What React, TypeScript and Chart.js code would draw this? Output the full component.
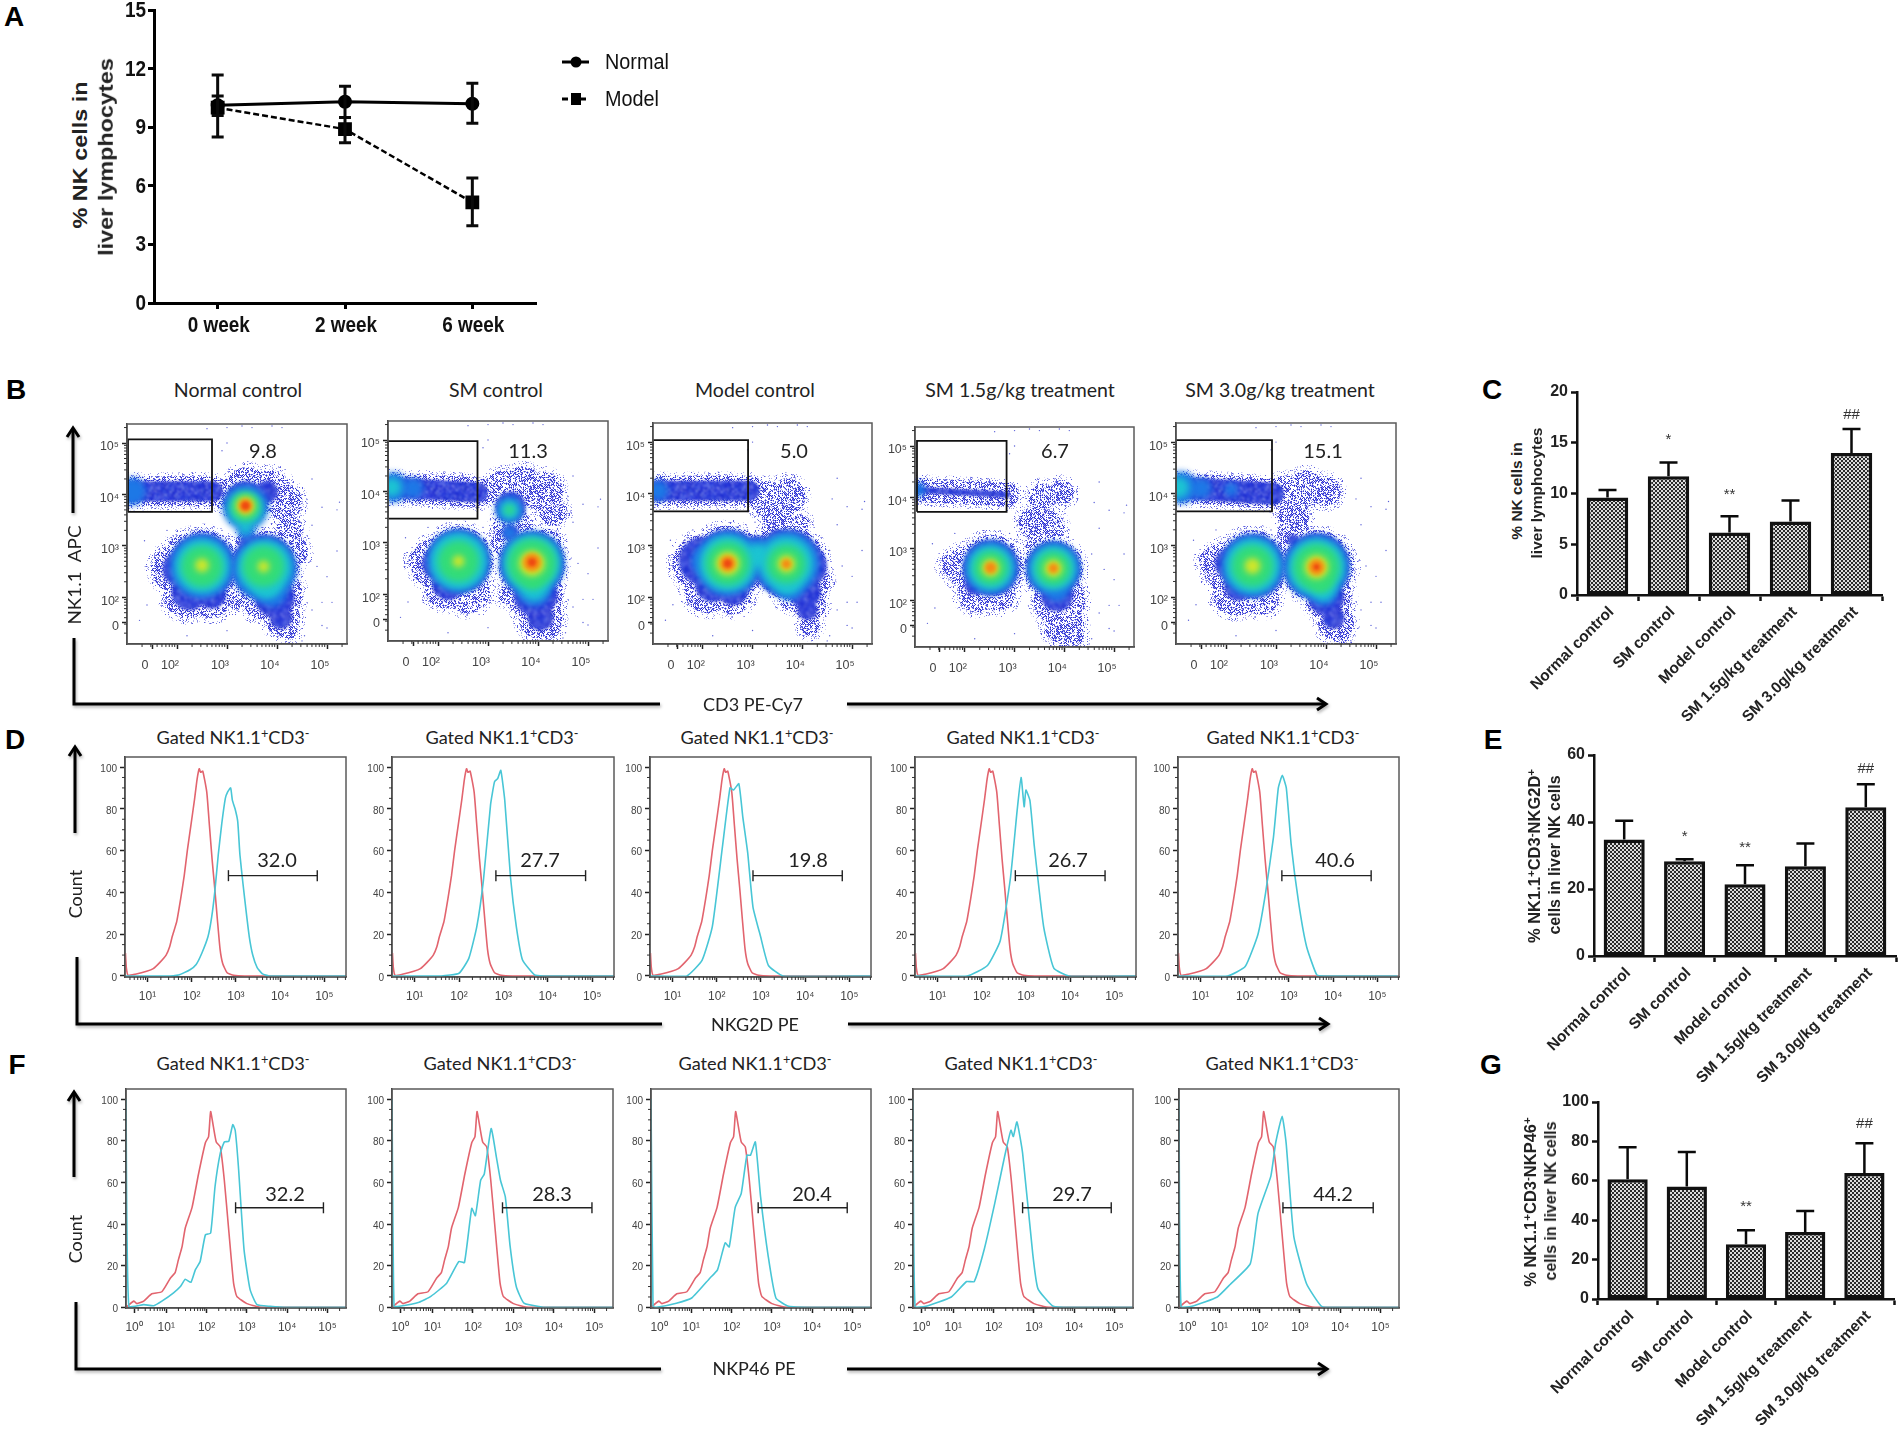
import React, { useEffect, useRef } from "react";
import { Chart, registerables } from "chart.js";
Chart.register(...registerables);

const ARIAL = '"Liberation Sans", Arial, sans-serif';
const LATO = 'Lato, "Open Sans", sans-serif';

// ---------- Panel A ----------
const weeks = ["0 week", "2 week", "6 week"];
const normalMean = [10.13, 10.3, 10.2];
const normalLow = [8.5, 9.5, 9.2];
const normalHigh = [11.67, 11.1, 11.25];
const modelMean = [10.0, 8.9, 5.15];
const modelLow = [9.6, 8.2, 3.95];
const modelHigh = [10.6, 9.5, 6.4];
const legendNames = ["Normal", "Model"];

// ---------- Panels C, E, G ----------
const groups = ["Normal control", "SM control", "Model control", "SM 1.5g/kg treatment", "SM 3.0g/kg treatment"];
const cMeans = [9.6, 11.7, 6.15, 7.25, 14.0];
const cTops = [10.35, 13.05, 7.75, 9.3, 16.35];
const cMarks = ["", "*", "**", "", "##"];
const cMarkAt = [0, 15.3, 9.85, 0, 17.75];
const eMeans = [34.8, 28.3, 21.4, 26.8, 44.4];
const eTops = [40.4, 28.9, 27.1, 33.6, 51.3];
const eMarks = ["", "*", "**", "", "##"];
const eMarkAt = [0, 35.6, 32.3, 0, 56];
const gMeans = [60.8, 57.1, 27.8, 34, 63.9];
const gTops = [77, 74.6, 34.9, 44.7, 79];
const gMarks = ["", "", "**", "", "##"];
const gMarkAt = [0, 0, 47, 0, 89];

// ---------- Panel B, density read as blobs [decade x, decade y, radius] ----------
type T = number[];
const b1Band: T[] = [[1, 4.06], [2.72, 4.06]];
const b1Halo: T[] = [[3.0,4.0,16],[3.4,4.1,22],[3.85,4.05,22],[4.15,3.85,18],[4.25,3.3,14],[4.3,2.9,16],[2.5,2.6,37],[2.0,2.55,25],[1.75,2.6,14],[2.2,2.05,24],[2.7,1.98,20],[2.1,2.95,14],[3.73,2.6,36],[4.0,2.05,26],[3.7,1.95,20],[4.1,1.6,18],[4.22,1.38,10],[3.45,3.05,14],[3.15,1.95,10]];
const b1Blue: T[] = [[3.37,3.85,21],[3.8,4.05,11],[2.5,2.6,33],[2.05,2.55,17],[2.25,2.1,18],[2.7,2.05,14],[3.73,2.6,32],[3.95,2.0,20],[4.08,1.6,11],[3.45,3.05,10]];
const b1Azure: T[] = [[1.1,4.06,12],[2.5,2.6,28],[3.75,2.55,28],[3.9,2.1,13],[3.37,3.75,20],[3.38,3.3,8]];
const b1Cyan: T[] = [[2.5,2.6,23],[3.75,2.58,23],[3.8,2.25,12],[3.37,3.72,15],[3.37,3.35,5]];
const b1Green: T[] = [[2.5,2.6,17],[3.73,2.6,17],[3.37,3.76,12]];
const b1Yellow: T[] = [[2.5,2.62,7],[3.73,2.6,6],[3.37,3.78,9.5]];
const b1Orange: T[] = [[3.37,3.78,7]];
const b1Red: T[] = [[3.37,3.78,4]];

const b2Band: T[] = [[1, 4.08], [2.8, 3.98]];
const b2Halo: T[] = [[3.3,4.05,18],[3.7,4.1,20],[4.1,4.0,20],[4.3,3.6,14],[3.5,3.3,20],[3.3,3.0,12],[4.2,3.0,14],[2.41,2.64,35],[1.95,2.6,25],[1.65,2.65,12],[2.15,2.15,22],[2.6,2.05,22],[3.88,2.6,34],[3.95,2.0,28],[4.05,1.55,22],[4.2,1.35,12],[3.4,2.0,10]];
const b2Blue: T[] = [[3.45,3.7,15],[3.45,3.2,8],[2.41,2.64,32],[2.0,2.6,16],[2.2,2.2,16],[3.88,2.6,32],[3.95,2.0,22],[4.05,1.55,13]];
const b2Azure: T[] = [[1.1,4.08,13],[1.5,4.06,9],[3.43,3.64,12],[3.43,3.2,6],[2.41,2.64,27],[3.88,2.6,28],[3.92,2.1,15]];
const b2Cyan: T[] = [[1.08,4.08,8],[3.43,3.64,8],[2.41,2.64,24],[3.88,2.6,24],[3.92,2.15,12]];
const b2Green: T[] = [[2.41,2.64,17],[3.88,2.6,20],[3.9,2.3,8],[3.43,3.64,4]];
const b2Yellow: T[] = [[2.41,2.64,6],[3.88,2.6,13]];
const b2Orange: T[] = [[3.88,2.62,9]];
const b2Red: T[] = [[3.88,2.62,4]];

const b3Band: T[] = [[1, 4.06], [2.94, 4.06]];
const b3Halo: T[] = [[3.3,3.9,18],[3.7,3.95,18],[3.5,3.6,16],[3.5,3.3,16],[3.95,3.4,10],[2.5,2.65,38],[1.95,2.65,28],[1.65,2.7,13],[2.1,2.15,24],[2.6,2.05,20],[3.1,2.7,26],[3.75,2.65,36],[4.0,2.3,28],[4.15,1.85,16],[4.15,1.45,10],[3.8,2.0,14]];
const b3Blue: T[] = [[3.5,3.15,8],[2.5,2.65,34],[2.0,2.7,24],[2.2,2.25,18],[2.6,2.15,16],[3.1,2.75,22],[3.7,2.65,34],[4.05,2.6,22],[4.05,2.1,16],[4.1,1.75,10]];
const b3Azure: T[] = [[1.1,4.06,9],[2.5,2.65,28],[2.1,2.7,14],[3.1,2.8,15],[3.7,2.65,28],[3.75,2.2,12]];
const b3Cyan: T[] = [[2.5,2.65,24],[3.1,2.8,10],[3.68,2.65,23],[3.7,2.3,11]];
const b3Green: T[] = [[2.5,2.65,18],[3.68,2.64,16]];
const b3Yellow: T[] = [[2.5,2.65,12],[3.68,2.64,9]];
const b3Orange: T[] = [[2.5,2.65,8],[3.68,2.64,5]];
const b3Red: T[] = [[2.5,2.65,4]];

const b4Band: T[] = [[1, 4.15], [2.85, 4.05]];
const b4Halo: T[] = [[3.55,4.0,14],[3.95,4.1,12],[3.4,3.5,16],[3.65,3.4,18],[3.5,3.0,14],[2.52,2.63,33],[2.0,2.65,20],[1.7,2.7,10],[2.25,2.15,20],[2.7,2.1,16],[3.78,2.62,30],[3.9,2.0,26],[4.0,1.5,20],[4.2,1.3,10]];
const b4Blue: T[] = [[2.52,2.63,28],[2.2,2.3,10],[3.78,2.62,27],[3.85,2.1,16]];
const b4Azure: T[] = [[1.05,4.15,7],[2.52,2.63,23],[3.78,2.62,23],[3.85,2.2,10]];
const b4Cyan: T[] = [[2.52,2.63,19],[3.78,2.62,19]];
const b4Green: T[] = [[2.52,2.63,14],[3.78,2.62,14]];
const b4Yellow: T[] = [[2.52,2.63,9],[3.78,2.62,9]];
const b4Orange: T[] = [[2.52,2.63,6],[3.78,2.62,5]];
const b4Red: T[] = [];

const b5Band: T[] = [[1, 4.12], [2.94, 4.0]];
const b5Halo: T[] = [[3.2,4.0,18],[3.6,4.1,18],[4.0,4.05,15],[3.35,3.6,16],[3.35,3.25,16],[3.35,3.0,12],[2.53,2.6,36],[2.0,2.6,24],[1.7,2.7,12],[2.2,2.1,24],[2.7,2.0,18],[3.15,2.8,14],[3.81,2.6,36],[4.1,2.6,24],[4.05,2.0,24],[4.2,1.5,18],[4.3,1.25,8]];
const b5Blue: T[] = [[3.35,3.1,6],[2.53,2.6,32],[2.1,2.65,16],[2.25,2.2,14],[3.81,2.6,33],[4.0,2.0,18],[4.15,1.6,11]];
const b5Azure: T[] = [[1.1,4.12,14],[1.5,4.1,9],[2.1,4.08,6],[2.53,2.6,27],[3.81,2.58,28],[3.95,2.1,12]];
const b5Cyan: T[] = [[1.05,4.12,9],[2.53,2.6,23],[3.81,2.58,24],[3.95,2.15,10]];
const b5Green: T[] = [[2.53,2.6,17],[3.81,2.58,19],[3.9,2.3,9]];
const b5Yellow: T[] = [[2.53,2.6,8],[3.81,2.58,12]];
const b5Orange: T[] = [[3.81,2.58,8]];
const b5Red: T[] = [[3.81,2.58,3]];

const strayDots: T[] = [[3.0,5.3],[3.3,5.33],[3.5,5.3],[3.9,5.33],[4.1,5.3],[2.9,4.85],[3.0,5.0],[2.6,5.28],[4.6,3.9],[4.9,3.75],[5.25,3.85],[5.2,3.7],[4.7,3.4],[4.55,2.9],[4.8,2.6],[5.0,2.4],[4.9,1.9],[5.1,1.9],[4.7,1.75],[4.9,1.45],[5.0,1.4],[4.5,1.15],[2.2,1.25],[3.0,1.35],[1.35,3.1],[1.8,3.3],[2.3,3.3],[3.05,3.45],[2.9,3.3],[1.4,1.85],[1.25,1.55],[4.55,1.25],[5.2,2.9],[4.7,4.3]];

// gates [x0, x1, y0, y1]
const gate1 = [1.02, 2.7, 3.66, 5.07];
const gate2 = [1.0, 2.79, 3.47, 4.98];
const gate3 = [1.0, 2.91, 3.66, 5.04];
const gate4 = [1.04, 2.84, 3.72, 5.1];
const gate5 = [1.0, 2.92, 3.66, 5.04];

const facsTickValues = [1.5, 2, 3, 4, 5];
const facsTickLabels = ["0", "10²", "10³", "10⁴", "10⁵"];
const logMinor = [0.301, 0.477, 0.602, 0.699, 0.778, 0.845, 0.903, 0.954];

// ---------- Panels D, F histograms [decade, % of max] ----------
const redD: T[] = [[0.5,11],[0.52,4],[0.56,0.3],[0.72,0.8],[0.98,2.2],[1.13,3.5],[1.28,6.5],[1.42,10],[1.5,14],[1.56,19],[1.66,26],[1.75,37],[1.83,48],[1.9,60],[1.98,72],[2.06,84],[2.12,94],[2.17,99.2],[2.2,97.5],[2.25,98],[2.34,88],[2.4,72],[2.46,56],[2.52,42],[2.58,27],[2.64,13],[2.7,6],[2.8,1.5],[2.95,0.3],[3.2,0],[5.49,0]];
const cyanD1: T[] = [[0.5,0],[1.4,0],[1.7,0.5],[1.96,3],[2.1,5.5],[2.23,11],[2.37,19],[2.45,28],[2.52,40],[2.6,58],[2.68,73],[2.76,85],[2.81,88],[2.88,90],[2.92,84],[2.98,80],[3.04,74],[3.09,58],[3.16,44],[3.23,31],[3.3,19],[3.38,10],[3.48,4],[3.6,1],[3.75,0],[5.49,0]];
const cyanD2: T[] = [[0.5,0],[1.6,0],[2,1.3],[2.22,8.4],[2.4,23.6],[2.55,46],[2.71,82],[2.8,93],[2.87,94.4],[2.94,98.4],[3.03,84],[3.16,47],[3.29,23.6],[3.43,7.6],[3.7,0.5],[3.9,0],[5.49,0]];
const cyanD3: T[] = [[0.5,0],[1.32,0],[1.67,7.6],[1.9,23.6],[2.13,62],[2.3,90],[2.38,89],[2.5,92],[2.59,76],[2.7,59],[2.82,33],[2.99,19],[3.17,5],[3.5,0],[5.49,0]];
const cyanD4: T[] = [[0.5,0],[1.67,0],[2.13,5],[2.42,17],[2.65,47],[2.8,79],[2.89,95],[2.96,81],[3.0,89],[3.09,84],[3.19,62],[3.4,23.6],[3.63,3.7],[3.97,0],[5.49,0]];
const cyanD5: T[] = [[0.5,0],[1.61,0],[2.01,4.5],[2.3,20],[2.47,39.5],[2.65,66.5],[2.76,90],[2.85,96],[2.94,90],[3.05,63],[3.22,35],[3.4,14],[3.63,0.5],[3.8,0],[5.46,0]];
const gateD: T[] = [[2.83,4.84],[2.83,4.85],[2.82,4.84],[2.76,4.79],[2.84,4.86]];

const redF: T[] = [[0,0],[0.19,3],[0.27,1.8],[0.44,3],[0.64,6.5],[0.89,7.5],[1.1,14],[1.22,16.7],[1.3,22.8],[1.39,29],[1.47,38],[1.64,48],[1.8,64],[1.97,79],[2.05,82],[2.1,94],[2.17,86.6],[2.24,79.4],[2.34,77],[2.44,61],[2.55,37],[2.67,11.6],[2.75,5.3],[3,1.8],[3.3,0.2],[4,0],[5.46,0]];
const cyanF1: T[] = [[0,100],[0.07,0.5],[0.44,1.3],[0.69,0.8],[0.89,3],[1.18,7],[1.35,10],[1.47,13.5],[1.61,12],[1.72,18],[1.84,22],[1.97,34.8],[2.1,35.6],[2.21,58],[2.34,74],[2.44,79.4],[2.55,79.7],[2.65,87.7],[2.71,85],[2.79,67.5],[2.93,27.6],[3.08,8.5],[3.25,1.3],[3.58,0.5],[4,0],[5.46,0]];
const cyanF2: T[] = [[0,100],[0.05,0.5],[0.18,0.5],[0.67,2.5],[0.96,5.3],[1.35,11.6],[1.65,22],[1.79,21.5],[1.97,47.5],[2.06,44],[2.19,61],[2.28,64],[2.45,85.8],[2.58,72],[2.68,61],[2.8,53],[2.92,29],[3.07,10],[3.26,2],[3.7,0.2],[4,0],[5.46,0]];
const cyanF3: T[] = [[0,100],[0.05,0.5],[0.13,0],[0.63,2],[1.01,4.5],[1.46,14],[1.65,18],[1.84,31],[1.94,29],[2.09,48],[2.24,54.7],[2.38,73],[2.47,73],[2.59,79.4],[2.72,53],[2.91,24.4],[3.1,4.5],[3.42,0.5],[4,0],[5.46,0]];
const cyanF4: T[] = [[0,100],[0.05,0.5],[0.32,0.5],[0.95,5],[1.33,12.4],[1.52,12.4],[1.77,28],[2.03,50],[2.28,73],[2.43,85],[2.49,82],[2.58,89],[2.72,74],[2.97,26],[3.1,9],[3.48,0.5],[4,0],[5.46,0]];
const cyanF5: T[] = [[0,100],[0.05,0.5],[0.32,0.5],[0.95,5],[1.27,11],[1.77,21],[1.96,45],[2.28,63],[2.4,79],[2.56,91.7],[2.66,78.6],[2.85,34],[3.16,11.6],[3.54,0.5],[4,0],[5.46,0]];
const gateF: T[] = [[2.72,4.9],[2.73,4.94],[2.66,4.87],[2.72,4.92],[2.58,4.82]];

const histTicksD = [1, 2, 3, 4, 5];
const histLabelsD = ["10¹", "10²", "10³", "10⁴", "10⁵"];
const histTicksF = [0.2, 1, 2, 3, 4, 5];
const histLabelsF = ["10⁰", "10¹", "10²", "10³", "10⁴", "10⁵"];
const countTicks = [0, 20, 40, 60, 80, 100];
const countMinor = [5, 10, 15, 25, 30, 35, 45, 50, 55, 65, 70, 75, 85, 90, 95];

// ---------- helpers ----------
const fitX = (h: number) => (s: any) => { s.height = h; s.paddingLeft = s.paddingRight = s.paddingTop = s.paddingBottom = 0; };
const fitY = (w: number) => (s: any) => { s.width = w; s.paddingLeft = s.paddingRight = s.paddingTop = s.paddingBottom = 0; };

function tile(size: number, draw: (c: CanvasRenderingContext2D) => void) {
  const cv = document.createElement("canvas");
  cv.width = cv.height = size;
  const c = cv.getContext("2d")!;
  draw(c);
  return c.createPattern(cv, "repeat")!;
}
const checker = () => tile(4, (c) => {
  c.fillStyle = "#dcdcdc"; c.fillRect(0, 0, 4, 4);
  c.fillStyle = "#2a2a2a"; c.fillRect(0, 0, 2, 2); c.fillRect(2, 2, 2, 2);
});
// fixed grain texture for the flow-cytometry speckle
const grain = (x: number, y: number) => ((((x * 7349 + y * 9151) ^ (x * y * 2711 + x * 113)) >>> 0) % 97) / 97;
const speckleTile = (density: number, colors: string[], base?: string) => tile(67, (c) => {
  if (base) { c.fillStyle = base; c.fillRect(0, 0, 67, 67); }
  for (let x = 0; x < 67; x++) for (let y = 0; y < 67; y++) {
    const g = grain(x, y);
    if (g < density) { c.fillStyle = colors[(x + y * 3) % colors.length]; c.fillRect(x, y, 1, 1); }
  }
});
const fringeTile = () => speckleTile(0.16, ["#8c8ee8", "#5a5ee0", "#b4b4f0"]);
const haloTile = () => speckleTile(0.5, ["#3a3fdc", "#6a6ee6", "#2228cc", "#a5a5ec"]);
const blueTile = () => speckleTile(0.36, ["#c8c8f4", "#0f18b0", "#2f5ce8", "#7a88ee"], "#2433d8");

const framePlugin = {
  id: "frame",
  afterDraw(chart: any) {
    const { ctx, chartArea: a } = chart;
    ctx.save(); ctx.strokeStyle = "#5a5a5a"; ctx.lineWidth = 1.5;
    ctx.strokeRect(a.left, a.top, a.right - a.left, a.bottom - a.top);
    ctx.restore();
  },
};
const minorPlugin = {
  id: "minor",
  afterDraw(chart: any) {
    const { ctx, chartArea: a, scales } = chart;
    const o = chart.options.plugins.minor;
    ctx.save(); ctx.strokeStyle = "#333"; ctx.lineWidth = 1;
    ctx.beginPath();
    for (const v of o.x) { const p = scales.x.getPixelForValue(v); if (p >= a.left && p <= a.right) { ctx.moveTo(p, a.bottom); ctx.lineTo(p, a.bottom + 3); } }
    for (const v of o.y) { const p = scales.y.getPixelForValue(v); if (p >= a.top && p <= a.bottom) { ctx.moveTo(a.left, p); ctx.lineTo(a.left - 3, p); } }
    ctx.stroke(); ctx.restore();
  },
};
const blurPlugin = {
  id: "blurDs",
  beforeDatasetDraw(chart: any, args: any) {
    const ds = chart.data.datasets[args.index];
    chart.ctx.save();
    if (ds.blur) chart.ctx.filter = `blur(${ds.blur}px)`;
  },
  afterDatasetDraw(chart: any) { chart.ctx.restore(); },
};
const errPlugin = {
  id: "err",
  afterDatasetsDraw(chart: any) {
    const { ctx, scales } = chart;
    const o = chart.options.plugins.err;
    ctx.save(); ctx.strokeStyle = "#0a0a0a"; ctx.lineWidth = o.width;
    for (const s of o.series) {
      s.high.forEach((h: number, i: number) => {
        const x = scales.x.getPixelForValue(i);
        const yh = scales.y.getPixelForValue(h);
        const yl = scales.y.getPixelForValue(s.low[i]);
        ctx.beginPath();
        ctx.moveTo(x, yl); ctx.lineTo(x, yh);
        ctx.moveTo(x - o.cap, yh); ctx.lineTo(x + o.cap, yh);
        if (o.lowCap) { ctx.moveTo(x - o.cap, yl); ctx.lineTo(x + o.cap, yl); }
        ctx.stroke();
      });
    }
    ctx.restore();
  },
};
const marksPlugin = {
  id: "marks",
  afterDatasetsDraw(chart: any) {
    const { ctx, scales } = chart;
    const o = chart.options.plugins.marks;
    ctx.save(); ctx.fillStyle = "#333"; ctx.textAlign = "center"; ctx.textBaseline = "middle";
    ctx.font = `15px ${ARIAL}`;
    o.text.forEach((t: string, i: number) => { if (t) ctx.fillText(t, scales.x.getPixelForValue(i), scales.y.getPixelForValue(o.at[i])); });
    ctx.restore();
  },
};
// panel A's lettering is horizontally condensed: tick labels drawn from the scales with a squeezed context
const narrowText = (ctx: any, text: string, x: number, y: number, align: string, squeeze: number) => {
  ctx.save(); ctx.translate(x, y); ctx.scale(squeeze, 1);
  ctx.textAlign = align; ctx.textBaseline = "middle";
  ctx.fillText(text, 0, 0); ctx.restore();
};
const narrowTicksPlugin = {
  id: "narrowTicks",
  afterDraw(chart: any) {
    const { ctx, scales, chartArea: a } = chart;
    ctx.save(); ctx.fillStyle = "#111"; ctx.font = `bold 22px ${ARIAL}`;
    scales.x.ticks.forEach((t: any, i: number) => narrowText(ctx, String(t.label), scales.x.getPixelForTick(i) + 1, a.bottom + 23, "center", 0.86));
    scales.y.ticks.forEach((t: any, i: number) => narrowText(ctx, String(t.label), a.left - 8, scales.y.getPixelForTick(i) + 1, "right", 0.86));
    ctx.restore();
  },
};
const legendPlugin = {
  id: "sideLegend",
  afterDraw(chart: any) {
    const { ctx } = chart;
    const ys = [62, 99];
    const left = 458;
    ctx.save();
    legendNames.forEach((name, i) => {
      const y = ys[i];
      ctx.strokeStyle = "#000"; ctx.fillStyle = "#000"; ctx.lineWidth = 3;
      ctx.setLineDash(i ? [6, 3] : []);
      ctx.beginPath(); ctx.moveTo(left, y); ctx.lineTo(left + 27, y); ctx.stroke();
      ctx.setLineDash([]);
      if (i) ctx.fillRect(left + 9, y - 6, 10, 12);
      else { ctx.beginPath(); ctx.arc(left + 14, y, 5.5, 0, 7); ctx.fill(); }
      ctx.font = `22px ${ARIAL}`; ctx.fillStyle = "#111";
      narrowText(ctx, name, left + 43, y + 1, "left", 0.9);
    });
    ctx.restore();
  },
};

function makeLineA(c: HTMLCanvasElement) {
  return new Chart(c, {
    type: "line",
    data: {
      labels: weeks,
      datasets: [
        { label: "Model", data: modelMean, borderColor: "#000", backgroundColor: "#000", borderWidth: 2.5, borderDash: [6, 3], pointStyle: "rect", pointRadius: 8, tension: 0 },
        { label: "Normal", data: normalMean, borderColor: "#000", backgroundColor: "#000", borderWidth: 3, pointStyle: "circle", pointRadius: 5.5, tension: 0 },
      ],
    },
    options: {
      animation: false, responsive: false, events: [],
      layout: { autoPadding: false, padding: { top: 10, right: 164, left: 0, bottom: 0 } },
      plugins: {
        legend: { display: false }, tooltip: { enabled: false },
        err: { width: 3, cap: 6, lowCap: true, series: [{ high: normalHigh, low: normalLow }, { high: modelHigh, low: modelLow }] },
      } as any,
      scales: {
        x: {
          offset: true, afterFit: fitX(50),
          border: { color: "#000", width: 3 }, grid: { drawOnChartArea: false, tickLength: 6, tickWidth: 3, tickColor: "#000" },
          ticks: { display: false },
        },
        y: {
          min: 0, max: 15, afterFit: fitY(50),
          border: { color: "#000", width: 3 }, grid: { drawOnChartArea: false, tickLength: 6, tickWidth: 3, tickColor: "#000" },
          ticks: { display: false, stepSize: 3 },
        },
      },
    },
    plugins: [errPlugin, narrowTicksPlugin, legendPlugin],
  } as any);
}

function makeBar(c: HTMLCanvasElement, vals: number[], tops: number[], marks: string[], at: number[], max: number, step: number, ml: number, mb: number, mr: number) {
  return new Chart(c, {
    type: "bar",
    data: { labels: groups, datasets: [{ data: vals, backgroundColor: checker(), borderColor: "#111", borderWidth: 3.5, barPercentage: 0.68, categoryPercentage: 1, borderSkipped: false }] },
    options: {
      animation: false, responsive: false, events: [],
      layout: { autoPadding: false, padding: { top: 10, right: mr, left: 0, bottom: 0 } },
      plugins: {
        legend: { display: false }, tooltip: { enabled: false },
        err: { width: 2.5, cap: 9, lowCap: false, series: [{ high: tops, low: vals }] },
        marks: { text: marks, at },
      } as any,
      scales: {
        x: {
          afterFit: fitX(mb),
          border: { color: "#111", width: 2.5 }, grid: { drawOnChartArea: false, tickLength: 6, tickWidth: 2.5, tickColor: "#111" },
          ticks: { color: "#222", autoSkip: false, minRotation: 45, maxRotation: 45, padding: 2, labelOffset: 4, font: { family: ARIAL, size: 15.5, weight: "bold" } },
        },
        y: {
          min: 0, max, afterFit: fitY(ml),
          border: { color: "#111", width: 2.5 }, grid: { drawOnChartArea: false, tickLength: 6, tickWidth: 2.5, tickColor: "#111" },
          ticks: { stepSize: step, color: "#222", padding: 3, font: { family: ARIAL, size: 16, weight: "bold" } },
        },
      },
    },
    plugins: [errPlugin, marksPlugin],
  } as any);
}

const toXY = (a: T[]) => a.map((p) => ({ x: p[0], y: p[1] }));

function makeFacs(c: HTMLCanvasElement, lv: T[][], gate: number[], band: T[], bandW: number, bandCore: number) {
  const [red, orange, yellow, green, cyan, azure, blue, halo] = lv;
  const [x0, x1, y0, y1] = gate;
  const minorX: number[] = [];
  [1, 2, 3, 4, 5].forEach((d) => logMinor.forEach((m) => minorX.push(d + m)));
  const bub = (data: T[], backgroundColor: any, blur: number, grow = 1, add = 0) => ({
    type: "bubble", data: data.map((p) => ({ x: p[0], y: p[1], r: p[2] * grow + add })), backgroundColor, borderWidth: 0, blur,
  });
  const bandLine = (w: number, color: any, blur: number) => ({
    type: "line", data: toXY(band), borderColor: color, borderWidth: w, borderCapStyle: "round", pointRadius: 0, tension: 0, blur,
  });
  return new Chart(c, {
    type: "bubble",
    data: {
      datasets: [
        { type: "line", data: [{ x: x0, y: y0 }, { x: x1, y: y0 }, { x: x1, y: y1 }, { x: x0, y: y1 }, { x: x0, y: y0 }], borderColor: "#111", borderWidth: 1.8, pointRadius: 0, tension: 0 },
        bub(red, "#ee4a12", 1.5),
        bub(orange, "#f58a14", 2),
        bub(yellow, "#cfe62a", 3),
        bub(green, "#33dc78", 3.5, 1.22),
        bub(cyan, "#1cc4d2", 3.5, 1.18),
        bub(azure, "#1d78e6", 3, 1.14),
        bub(blue, blueTile(), 1.4),
        bandLine(bandCore, blueTile(), 1),
        bub(halo, haloTile(), 0.4),
        bandLine(bandW, haloTile(), 0.4),
        bub(halo, fringeTile(), 0.3, 1, 6),
        bandLine(bandW + 8, fringeTile(), 0.3),
        { type: "bubble", data: strayDots.map((p) => ({ x: p[0], y: p[1], r: 0.7 })), backgroundColor: "#5a60d8", borderWidth: 0 },
      ],
    },
    options: {
      animation: false, responsive: false, events: [],
      layout: { autoPadding: false, padding: { top: 4, right: 4, left: 0, bottom: 0 } },
      plugins: { legend: { display: false }, tooltip: { enabled: false }, minor: { x: minorX, y: minorX.map((v) => v) } } as any,
      scales: {
        x: {
          type: "linear", min: 1, max: 5.4, afterFit: fitX(36),
          afterBuildTicks: (s: any) => { s.ticks = facsTickValues.map((value) => ({ value })); },
          border: { color: "#333", width: 1.5 }, grid: { drawOnChartArea: false, tickLength: 5, tickWidth: 1.5, tickColor: "#222" },
          ticks: { autoSkip: false, maxRotation: 0, padding: 9, labelOffset: -7, color: "#444", font: { family: ARIAL, size: 12.5 }, callback: (_v: any, i: number) => facsTickLabels[i] },
        },
        y: {
          type: "linear", min: 1.09, max: 5.37, afterFit: fitY(36),
          afterBuildTicks: (s: any) => { s.ticks = facsTickValues.map((value) => ({ value })); },
          border: { color: "#333", width: 1.5 }, grid: { drawOnChartArea: false, tickLength: 5, tickWidth: 1.5, tickColor: "#222" },
          ticks: { autoSkip: false, padding: 3, labelOffset: 4, color: "#444", font: { family: ARIAL, size: 12.5 }, callback: (_v: any, i: number) => facsTickLabels[i] },
        },
      },
    },
    plugins: [blurPlugin, framePlugin, minorPlugin],
  } as any);
}

function makeHist(c: HTMLCanvasElement, red: T[], cyan: T[], gate: number[], xr: number[], yr: number[], tv: number[], tl: string[], gy: number) {
  const minorX: number[] = [];
  [0, 1, 2, 3, 4, 5].forEach((d) => logMinor.forEach((m) => minorX.push(d + m)));
  return new Chart(c, {
    type: "line",
    data: {
      datasets: [
        { data: [{ x: gate[0], y: gy }, { x: gate[1], y: gy }], borderColor: "#222", borderWidth: 1.4, pointStyle: "line", rotation: 90, pointRadius: 5.5, pointBorderColor: "#222", pointBorderWidth: 1.4, tension: 0 },
        { data: toXY(cyan), borderColor: "#48c6d6", borderWidth: 1.6, pointRadius: 0, tension: 0.15 },
        { data: toXY(red), borderColor: "#e2646e", borderWidth: 1.6, pointRadius: 0, tension: 0.15 },
      ],
    },
    options: {
      animation: false, responsive: false, events: [],
      layout: { autoPadding: false, padding: { top: 4, right: 4, left: 0, bottom: 0 } },
      plugins: { legend: { display: false }, tooltip: { enabled: false }, minor: { x: minorX, y: countMinor } } as any,
      scales: {
        x: {
          type: "linear", min: xr[0], max: xr[1], afterFit: fitX(36),
          afterBuildTicks: (s: any) => { s.ticks = tv.map((value) => ({ value })); },
          border: { color: "#333", width: 1.5 }, grid: { drawOnChartArea: false, tickLength: 5, tickWidth: 1.5, tickColor: "#222" },
          ticks: { autoSkip: false, maxRotation: 0, padding: 7, color: "#444", font: { family: ARIAL, size: 12 }, callback: (_v: any, i: number) => tl[i] },
        },
        y: {
          type: "linear", min: yr[0], max: yr[1], afterFit: fitY(36),
          afterBuildTicks: (s: any) => { s.ticks = countTicks.map((value) => ({ value })); },
          border: { color: "#333", width: 1.5 }, grid: { drawOnChartArea: false, tickLength: 5, tickWidth: 1.5, tickColor: "#222" },
          ticks: { autoSkip: false, padding: 3, labelOffset: 2, color: "#444", font: { family: ARIAL, size: 10 }, callback: (_v: any, i: number) => String(countTicks[i]) },
        },
      },
    },
    plugins: [framePlugin, minorPlugin],
  } as any);
}

function Plot({ left, top, width, height, make }: { left: number; top: number; width: number; height: number; make: (c: HTMLCanvasElement) => Chart }) {
  const ref = useRef<HTMLCanvasElement>(null);
  useEffect(() => {
    const chart = make(ref.current!);
    return () => chart.destroy();
  }, []);
  return <canvas ref={ref} width={width} height={height} style={{ position: "absolute", left, top, width, height, display: "block" }} />;
}

function Txt({ x, y, font = LATO, size = 18, weight = 400, color = "#222", rot = 0, sx = 1, sy = 1, children }: any) {
  return (
    <div style={{ position: "absolute", left: x, top: y, whiteSpace: "nowrap", fontFamily: font, fontSize: size, fontWeight: weight, color, lineHeight: 1, transform: `translate(-50%,-50%) rotate(${rot}deg) scale(${sx},${sy})` }}>
      {children}
    </div>
  );
}

const supS: React.CSSProperties = { fontSize: "0.7em", verticalAlign: "0.45em", lineHeight: 0 };
const GatedTitle = () => <>Gated NK1.1<span style={supS}>+</span>CD3<span style={supS}>-</span></>;

const facsBoxes = [
  { L: 127, T: 424, R: 347, B: 644, lv: [b1Red, b1Orange, b1Yellow, b1Green, b1Cyan, b1Azure, b1Blue, b1Halo], gate: gate1, band: b1Band, w: 30, core: 20 },
  { L: 388, T: 421, R: 608, B: 641, lv: [b2Red, b2Orange, b2Yellow, b2Green, b2Cyan, b2Azure, b2Blue, b2Halo], gate: gate2, band: b2Band, w: 30, core: 20 },
  { L: 653, T: 423, R: 872, B: 644, lv: [b3Red, b3Orange, b3Yellow, b3Green, b3Cyan, b3Azure, b3Blue, b3Halo], gate: gate3, band: b3Band, w: 30, core: 20 },
  { L: 915, T: 427, R: 1134, B: 647, lv: [b4Red, b4Orange, b4Yellow, b4Green, b4Cyan, b4Azure, b4Blue, b4Halo], gate: gate4, band: b4Band, w: 24, core: 6 },
  { L: 1176, T: 423, R: 1396, B: 644, lv: [b5Red, b5Orange, b5Yellow, b5Green, b5Cyan, b5Azure, b5Blue, b5Halo], gate: gate5, band: b5Band, w: 30, core: 22 },
];
const dBoxes = [
  { L: 125, R: 346, cy: cyanD1 }, { L: 392, R: 614, cy: cyanD2 }, { L: 650, R: 871, cy: cyanD3 }, { L: 915, R: 1136, cy: cyanD4 }, { L: 1178, R: 1399, cy: cyanD5 },
];
const fBoxes = [
  { L: 126, R: 346, cy: cyanF1 }, { L: 392, R: 613, cy: cyanF2 }, { L: 651, R: 871, cy: cyanF3 }, { L: 913, R: 1133, cy: cyanF4 }, { L: 1179, R: 1399, cy: cyanF5 },
];

const bTitles = [["Normal control", 238], ["SM control", 496], ["Model control", 755], ["SM 1.5g/kg treatment", 1020], ["SM 3.0g/kg treatment", 1280]];
const bPct = [["9.8", 263], ["11.3", 528], ["5.0", 794], ["6.7", 1055], ["15.1", 1323]];
const dTitleX = [233, 502, 757, 1023, 1283];
const dPct = [["32.0", 277], ["27.7", 540], ["19.8", 808], ["26.7", 1068], ["40.6", 1335]];
const fTitleX = [233, 500, 755, 1021, 1282];
const fPct = [["32.2", 285], ["28.3", 552], ["20.4", 812], ["29.7", 1072], ["44.2", 1333]];

function LArrow({ upX, tipY, upEnd, lx, lTop, lY, gapA, gapB, tipX }: any) {
  return (
    <g stroke="#000" strokeWidth={3} fill="none">
      <line x1={upX} y1={upEnd} x2={upX} y2={tipY + 2} />
      <polyline points={`${upX - 6},${tipY + 9} ${upX},${tipY} ${upX + 6},${tipY + 9}`} />
      <polyline points={`${lx},${lTop} ${lx},${lY} ${gapA},${lY}`} />
      <line x1={gapB} y1={lY} x2={tipX - 2} y2={lY} />
      <polyline points={`${tipX - 9},${lY - 6} ${tipX},${lY} ${tipX - 9},${lY + 6}`} />
    </g>
  );
}

export default function App() {
  return (
    <div style={{ position: "absolute", left: 0, top: 0, width: 1900, height: 1431, background: "#fff", overflow: "hidden", filter: "blur(0.3px)" }}>
      {/* Panel letters */}
      <Txt x={14} y={17} font={ARIAL} size={28} weight={700} color="#000">A</Txt>
      <Txt x={16} y={390} font={ARIAL} size={28} weight={700} color="#000">B</Txt>
      <Txt x={1492} y={390} font={ARIAL} size={28} weight={700} color="#000">C</Txt>
      <Txt x={15} y={740} font={ARIAL} size={28} weight={700} color="#000">D</Txt>
      <Txt x={1493} y={740} font={ARIAL} size={28} weight={700} color="#000">E</Txt>
      <Txt x={17} y={1065} font={ARIAL} size={28} weight={700} color="#000">F</Txt>
      <Txt x={1491} y={1065} font={ARIAL} size={28} weight={700} color="#000">G</Txt>

      {/* Panel A */}
      <Plot left={104} top={0} width={596} height={353} make={makeLineA} />
      <Txt x={80} y={155} font={ARIAL} size={18} weight={700} rot={-90} sx={1.3} sy={1.12}>% NK cells in</Txt>
      <Txt x={106} y={157} font={ARIAL} size={18} weight={700} rot={-90} sx={1.3} sy={1.12}>liver lymphocytes</Txt>

      {/* Bars */}
      <Plot left={1527} top={382} width={369} height={353} make={(c) => makeBar(c, cMeans, cTops, cMarks, cMarkAt, 20, 5, 50, 140, 14)} />
      <Plot left={1544} top={745} width={356} height={351} make={(c) => makeBar(c, eMeans, eTops, eMarks, eMarkAt, 60, 20, 50, 140, 4)} />
      <Plot left={1548} top={1092} width={350} height={339} make={(c) => makeBar(c, gMeans, gTops, gMarks, gMarkAt, 100, 20, 50, 132, 4)} />
      <Txt x={1517} y={491} font={ARIAL} size={15.5} weight={700} rot={-90}>% NK cells in</Txt>
      <Txt x={1537} y={493} font={ARIAL} size={15.5} weight={700} rot={-90}>liver lymphocytes</Txt>
      <Txt x={1534} y={856} font={ARIAL} size={16.5} weight={700} rot={-90}>% NK1.1<span style={supS}>+</span>CD3<span style={supS}>-</span>NKG2D<span style={supS}>+</span></Txt>
      <Txt x={1555} y={855} font={ARIAL} size={16} weight={700} rot={-90}>cells in liver NK cells</Txt>
      <Txt x={1530} y={1202} font={ARIAL} size={16.5} weight={700} rot={-90}>% NK1.1<span style={supS}>+</span>CD3<span style={supS}>-</span>NKP46<span style={supS}>+</span></Txt>
      <Txt x={1551} y={1201} font={ARIAL} size={16} weight={700} rot={-90}>cells in liver NK cells</Txt>

      {/* FACS */}
      {facsBoxes.map((b, i) => (
        <Plot key={i} left={b.L - 36} top={b.T - 4} width={b.R - b.L + 40} height={b.B - b.T + 40} make={(c) => makeFacs(c, b.lv, b.gate, b.band, b.w, b.core)} />
      ))}
      {bTitles.map(([t, x], i) => <Txt key={i} x={x} y={390} size={19.5}>{t}</Txt>)}
      {bPct.map(([t, x], i) => <Txt key={i} x={x} y={450} size={20}>{t}</Txt>)}

      {/* D */}
      {dBoxes.map((b, i) => (
        <Plot key={i} left={b.L - 36} top={753} width={b.R - b.L + 40} height={260} make={(c) => makeHist(c, redD, b.cy, gateD[i], [0.49, 5.49], [-0.5, 104.8], histTicksD, histLabelsD, 48)} />
      ))}
      {dTitleX.map((x, i) => <Txt key={i} x={x} y={737} size={18.2}><GatedTitle /></Txt>)}
      {dPct.map(([t, x], i) => <Txt key={i} x={x} y={859} size={20}>{t}</Txt>)}

      {/* F */}
      {fBoxes.map((b, i) => (
        <Plot key={i} left={b.L - 36} top={1085} width={b.R - b.L + 40} height={259} make={(c) => makeHist(c, redF, b.cy, gateF[i], [0, 5.46], [-0.3, 104.8], histTicksF, histLabelsF, 47.8)} />
      ))}
      {fTitleX.map((x, i) => <Txt key={i} x={x} y={1063} size={18.2}><GatedTitle /></Txt>)}
      {fPct.map(([t, x], i) => <Txt key={i} x={x} y={1193} size={20}>{t}</Txt>)}

      {/* Axis arrows */}
      <svg width={1900} height={1431} style={{ position: "absolute", left: 0, top: 0, pointerEvents: "none", filter: "drop-shadow(1px 2px 1.5px rgba(0,0,0,.3))" }}>
        <LArrow upX={73} tipY={428} upEnd={513} lx={74} lTop={638} lY={704} gapA={660} gapB={847} tipX={1326} />
        <LArrow upX={75} tipY={747} upEnd={833} lx={77} lTop={957} lY={1024} gapA={662} gapB={848} tipX={1328} />
        <LArrow upX={74} tipY={1092} upEnd={1177} lx={76} lTop={1302} lY={1369} gapA={661} gapB={847} tipX={1327} />
      </svg>
      <Txt x={74} y={575} size={18} rot={-90} sx={1.05}>NK1.1&nbsp;&nbsp;APC</Txt>
      <Txt x={753} y={704} size={18}>CD3 PE-Cy7</Txt>
      <Txt x={75} y={894} size={18} rot={-90}>Count</Txt>
      <Txt x={755} y={1024} size={18}>NKG2D PE</Txt>
      <Txt x={75} y={1239} size={18} rot={-90}>Count</Txt>
      <Txt x={754} y={1368} size={18}>NKP46 PE</Txt>
    </div>
  );
}
